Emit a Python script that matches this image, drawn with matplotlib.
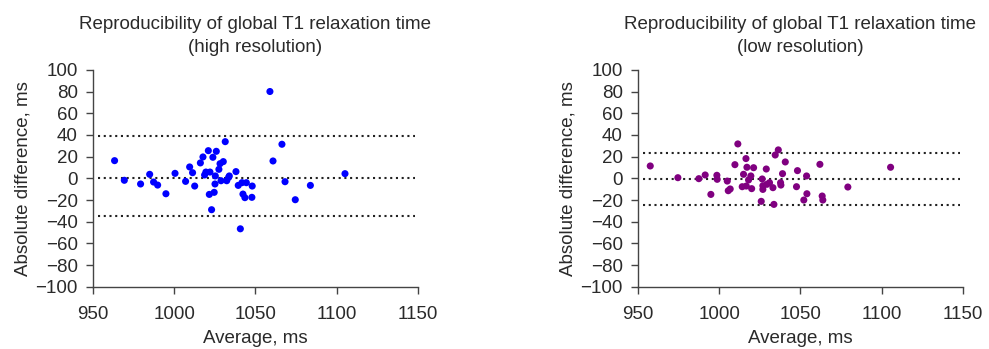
import numpy as np
import matplotlib.pyplot as plt

plt.rcParams["font.family"] = ["Liberation Sans", "DejaVu Sans"]

# ---------------------------------------------------------------------------
# Bland-Altman data (average, difference in ms)
# ---------------------------------------------------------------------------
hi_avg = [963.3, 969.3, 979.3, 984.9, 987.3, 989.8, 994.9, 1000.5, 1007.0, 1009.5,
          1011.3, 1012.6, 1016.1, 1017.7, 1018.7, 1019.5, 1021.0, 1022.0, 1021.6, 1023.0,
          1023.8, 1024.6, 1025.1, 1025.3, 1025.9, 1027.5, 1028.2, 1028.8, 1030.2, 1031.4,
          1032.3, 1033.5, 1033.9, 1038.0, 1039.4, 1040.7, 1041.7, 1042.3, 1043.5, 1044.4,
          1048.0, 1047.8, 1058.9, 1060.8, 1066.3, 1068.2, 1074.5, 1083.8, 1105.1]
hi_diff = [16.3, -1.8, -5.2, 3.7, -3.4, -6.2, -14.2, 4.6, -2.8, 10.5,
           5.2, -7.1, 14.2, 19.7, 3.1, 5.8, 25.5, 5.8, -14.8, -28.9,
           19.4, -12.9, -5.2, 2.2, 24.9, 8.3, 13.5, -2.2, 15.4, 33.8,
           -2.2, 0.9, 2.2, 6.2, -6.5, -46.5, -4.0, -14.5, -17.8, -4.0,
           -7.1, -17.5, 80.0, 16.0, 31.4, -3.1, -19.7, -6.5, 4.3]
hi_limits = [38.8, 0.0, -34.5]   # upper LoA, mean, lower LoA

lo_avg = [957.6, 974.6, 987.5, 991.4, 994.9, 998.6, 998.8, 1005.0, 1005.6, 1006.8,
          1009.7, 1011.5, 1014.2, 1015.0, 1016.5, 1016.7, 1017.1, 1018.1, 1019.5, 1020.0,
          1021.2, 1025.9, 1026.5, 1026.9, 1026.9, 1029.0, 1029.4, 1031.0, 1033.1, 1033.7,
          1034.5, 1036.4, 1037.8, 1038.0, 1039.0, 1040.7, 1047.6, 1048.2, 1052.1, 1053.8,
          1054.0, 1062.0, 1063.4, 1063.8, 1079.2, 1105.5]
lo_diff = [11.4, 0.6, -0.3, 3.1, -14.8, 2.8, -0.9, -2.5, -11.4, -9.8,
           12.6, 31.7, -7.7, 3.7, 18.2, -7.1, 10.2, -1.5, 2.2, -9.5,
           9.8, -21.2, -0.6, -6.8, -10.2, 8.6, -5.5, -4.0, -8.6, -24.0,
           21.5, 26.2, -4.0, -6.2, 4.3, 15.1, -7.7, 7.1, -20.0, 2.2,
           -14.2, 12.9, -16.3, -20.0, -8.0, 10.2]
lo_limits = [23.1, -0.9, -24.9]

panels = [
    ("Reproducibility of global T1 relaxation time\n(high resolution)",
     hi_avg, hi_diff, hi_limits, "#0000ff"),
    ("Reproducibility of global T1 relaxation time\n(low resolution)",
     lo_avg, lo_diff, lo_limits, "#800080"),
]

FS = 13.5
fig = plt.figure(figsize=(9.89, 3.49), dpi=100)
lefts = [0.094, 0.645]

for left, (title, avg, diff, limits, color) in zip(lefts, panels):
    ax = fig.add_axes([left, 0.178, 0.3286, 0.622])
    for y in limits:
        ax.hlines(y, 953, 1148, colors="#222222", linestyles=(0, (1, 1.75)), lw=1.5)
    ax.scatter(avg, diff, s=26, color=color, edgecolors="none", zorder=3)

    ax.set_xlim(950, 1150)
    ax.set_ylim(-100, 100)
    ax.set_xticks(np.arange(950, 1151, 50))
    ax.set_yticks(np.arange(-100, 101, 20))
    ax.set_yticklabels([str(v).replace("-", "\u2212") for v in range(-100, 101, 20)])

    for side in ("top", "right"):
        ax.spines[side].set_visible(False)
    for side in ("left", "bottom"):
        ax.spines[side].set_color("#444444")
        ax.spines[side].set_linewidth(1.0)
    ax.tick_params(direction="out", length=5, width=1.0, color="#444444",
                   labelsize=FS, labelcolor="#2a2a2a", pad=6)
    ax.tick_params(axis="x", pad=9)

    ax.set_xlabel("Average, ms", fontsize=FS, color="#2a2a2a", labelpad=5)
    ax.set_ylabel("Absolute difference, ms", fontsize=FS, color="#2a2a2a", labelpad=3)
    ax.set_title(title, fontsize=FS, color="#2a2a2a", pad=13, linespacing=1.45)

fig.savefig("out.png", dpi=100)
